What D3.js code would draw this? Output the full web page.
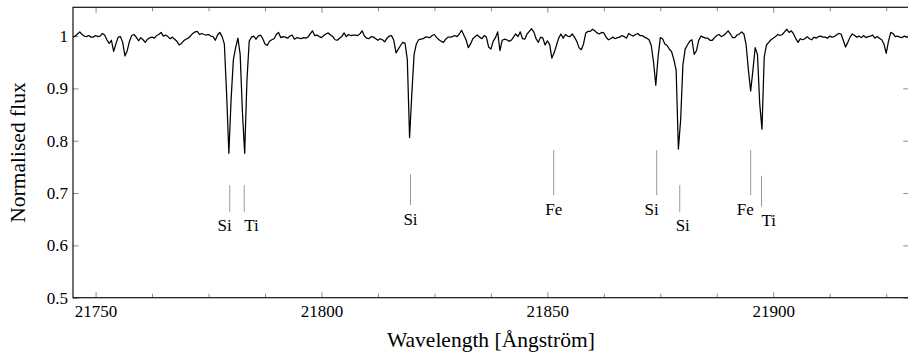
<!DOCTYPE html>
<html>
<head>
<meta charset="utf-8">
<script src="https://cdn.jsdelivr.net/npm/d3@7"></script>
<style>
  html, body { margin: 0; padding: 0; background: #fff; }
  svg { display: block; }
  svg text { font-family: "Liberation Serif", "DejaVu Serif", serif !important; fill: #000; }
</style>
</head>
<body>
<svg id="chart" width="908" height="355"></svg>
<script>
// ---------------- DATA ----------------
const wavelengthStart = 21745;   // Å, first sample
const wavelengthStep = 0.5;      // Å, sampling interval
const flux = [
  0.998, 1.000, 1.004, 1.008, 1.003, 1.000, 0.999, 1.001, 0.998, 0.998,
  1.001, 0.999, 1.000, 1.005, 1.002, 0.993, 0.986, 0.992, 0.971, 0.985,
  0.998, 0.999, 0.988, 0.962, 0.972, 0.990, 1.001, 1.003, 0.998, 0.991,
  0.997, 0.993, 0.988, 0.994, 0.997, 0.998, 0.996, 1.001, 1.003, 1.007,
  1.000, 1.002, 0.999, 0.995, 0.998, 0.994, 0.990, 0.983, 0.986, 0.991,
  0.994, 0.996, 1.000, 1.005, 1.008, 1.009, 1.003, 1.005, 1.003, 1.002,
  1.003, 1.000, 0.999, 0.992, 1.002, 1.007, 0.999, 0.985, 0.890, 0.776,
  0.880, 0.955, 0.978, 0.996, 0.965, 0.855, 0.776, 0.915, 0.990, 0.998,
  1.000, 0.994, 1.000, 1.002, 0.995, 0.985, 0.982, 0.990, 0.993, 0.995,
  1.003, 1.007, 0.997, 0.999, 0.998, 0.996, 1.000, 1.002, 0.994, 0.997,
  0.996, 0.995, 0.997, 0.996, 0.998, 1.004, 1.010, 1.001, 1.002, 0.999,
  0.997, 1.001, 1.004, 1.006, 1.002, 0.999, 0.993, 0.992, 0.996, 0.999,
  1.006, 0.999, 1.003, 1.001, 1.002, 1.002, 1.001, 1.004, 1.010, 1.000,
  0.996, 0.995, 0.999, 0.998, 0.995, 0.992, 0.995, 0.993, 0.989, 0.996,
  1.000, 1.001, 0.992, 0.968, 0.975, 0.982, 0.988, 0.986, 0.955, 0.806,
  0.890, 0.965, 0.985, 0.993, 0.994, 0.995, 0.998, 0.998, 0.997, 1.001,
  1.003, 0.997, 0.993, 0.990, 0.988, 0.994, 0.998, 0.998, 0.999, 1.001,
  0.999, 1.004, 1.011, 1.002, 0.993, 0.978, 0.985, 0.995, 0.999, 1.002,
  0.998, 0.995, 1.001, 0.998, 0.979, 0.975, 0.990, 0.997, 1.008, 0.972,
  0.992, 0.994, 0.993, 0.990, 0.992, 0.998, 1.004, 0.999, 1.008, 0.995,
  0.994, 1.004, 1.009, 1.014, 1.008, 0.995, 0.988, 0.998, 0.996, 0.983,
  0.991, 0.984, 0.958, 0.968, 0.982, 0.996, 1.004, 0.996, 1.003, 1.000,
  0.999, 1.004, 0.998, 0.990, 0.978, 0.974, 0.985, 1.006, 1.009, 1.009,
  1.013, 1.010, 1.006, 1.004, 1.007, 1.006, 0.998, 0.993, 0.995, 0.998,
  0.995, 0.997, 0.998, 1.001, 0.999, 0.996, 1.005, 1.002, 1.000, 1.003,
  1.005, 1.001, 1.001, 0.998, 0.996, 0.993, 0.982, 0.950, 0.906, 0.960,
  0.997, 0.995, 0.985, 0.982, 0.975, 0.970, 0.955, 0.935, 0.784, 0.840,
  0.945, 0.975, 0.983, 0.990, 0.993, 0.965, 0.972, 0.992, 1.000, 0.998,
  0.996, 0.996, 0.992, 0.992, 0.997, 1.001, 1.003, 0.999, 1.001, 1.005,
  1.010, 1.004, 0.997, 0.997, 1.002, 1.004, 1.008, 1.004, 0.983, 0.935,
  0.895, 0.935, 0.978, 0.965, 0.871, 0.822, 0.960, 0.983, 0.988, 0.993,
  0.996, 0.999, 1.003, 1.001, 1.003, 1.008, 1.013, 1.007, 1.010, 1.004,
  0.995, 0.988, 0.995, 0.993, 0.995, 0.999, 0.995, 0.993, 0.998, 0.996,
  0.999, 1.000, 0.998, 0.998, 0.996, 1.000, 0.998, 0.999, 1.002, 1.005,
  1.004, 0.992, 0.979, 0.988, 0.998, 1.004, 1.001, 0.998, 1.000, 0.997,
  1.001, 0.997, 0.999, 1.000, 1.002, 0.996, 0.999, 0.996, 0.993, 0.985,
  0.967, 0.990, 1.007, 1.005, 0.999, 1.000, 0.998, 0.997, 1.000, 0.998,
  0.999
];

// identified lines
const lineLabels      = ["Si", "Ti", "Si", "Fe", "Si", "Si", "Fe", "Ti"];
const lineWavelengths = [21779.7, 21782.9, 21819.7, 21851.4, 21874.2, 21879.3, 21895.0, 21897.4];
const lineTop         = [0.715, 0.715, 0.736, 0.782, 0.782, 0.715, 0.782, 0.733];
const lineBottom      = [0.664, 0.664, 0.677, 0.696, 0.696, 0.664, 0.696, 0.674];

// axes
const xDomain = [21745, 21930];
const yDomain = [0.5, 1.055];
const xMajorTicks = [21750, 21800, 21850, 21900];
const xMinorTicks = [21762.5, 21775, 21787.5, 21812.5, 21825, 21837.5, 21862.5, 21875, 21887.5, 21912.5, 21925];
const yTicks = [0.5, 0.6, 0.7, 0.8, 0.9, 1];
const xTitle = "Wavelength [Ångström]";
const yTitle = "Normalised flux";

// ---------------- DRAW ----------------
(function () {
const svg = d3.select("#chart");
const mLeft = 73, mRight = 908.8, mTop = 7.3, mBottom = 297.7;
const serif = "'Liberation Serif', 'DejaVu Serif', serif";

const x = d3.scaleLinear().domain(xDomain).range([mLeft, mRight]);
const y = d3.scaleLinear().domain(yDomain).range([mBottom, mTop]);

const points = flux.map((f, i) => ({ w: wavelengthStart + i * wavelengthStep, f }));

const tickColor = "#8a8a8a";
const fmtY = d3.format("~g");

function styleAxis(g) {
  g.attr("font-family", serif);
  g.select(".domain").remove();
  g.selectAll(".tick line").attr("stroke", tickColor).attr("stroke-width", 1);
  g.selectAll(".tick text").attr("font-family", serif).attr("font-size", 17).attr("fill", "#000");
}

// bottom major
svg.append("g").attr("transform", `translate(0,${mBottom})`)
  .call(d3.axisBottom(x).tickValues(xMajorTicks).tickSize(-5.5).tickPadding(7.5).tickFormat(d3.format("d")))
  .call(styleAxis);
// bottom minor
svg.append("g").attr("transform", `translate(0,${mBottom})`)
  .call(d3.axisBottom(x).tickValues(xMinorTicks).tickSize(-4).tickFormat(""))
  .call(styleAxis);
// top major + minor
svg.append("g").attr("transform", `translate(0,${mTop})`)
  .call(d3.axisTop(x).tickValues(xMajorTicks).tickSize(-5.5).tickFormat(""))
  .call(styleAxis);
svg.append("g").attr("transform", `translate(0,${mTop})`)
  .call(d3.axisTop(x).tickValues(xMinorTicks).tickSize(-4).tickFormat(""))
  .call(styleAxis);
// left
svg.append("g").attr("transform", `translate(${mLeft},0)`)
  .call(d3.axisLeft(y).tickValues(yTicks).tickSize(-5.5).tickPadding(5).tickFormat(fmtY))
  .call(styleAxis);
// right
svg.append("g").attr("transform", `translate(${mRight},0)`)
  .call(d3.axisRight(y).tickValues(yTicks).tickSize(-5.5).tickFormat(""))
  .call(styleAxis);

// line markers
const markers = lineLabels.map((lab, i) => ({ lab, w: lineWavelengths[i], t: lineTop[i], b: lineBottom[i] }));
const labelAnchor = ["end", "start", "middle", "middle", "end", "middle", "end", "start"];
const labelDx = [2, 0, 0, 0, 2, 3, 3, 0];

svg.append("g").selectAll("line").data(markers).join("line")
  .attr("x1", d => x(d.w)).attr("x2", d => x(d.w))
  .attr("y1", d => y(d.t)).attr("y2", d => y(d.b))
  .attr("stroke", "#9a9a9a").attr("stroke-width", 1);

svg.append("g").selectAll("text").data(markers).join("text")
  .attr("x", (d, i) => x(d.w) + labelDx[i])
  .attr("y", d => y(d.b) + 19.5)
  .attr("text-anchor", (d, i) => labelAnchor[i])
  .attr("font-family", serif)
  .attr("font-size", 17)
  .text(d => d.lab);

// spectrum
svg.append("path").datum(points)
  .attr("fill", "none").attr("stroke", "#000").attr("stroke-width", 1.25)
  .attr("stroke-linejoin", "round")
  .attr("d", d3.line().x(d => x(d.w)).y(d => y(d.f)));

// frame
svg.append("rect")
  .attr("x", mLeft).attr("y", mTop).attr("width", mRight - mLeft).attr("height", mBottom - mTop)
  .attr("fill", "none").attr("stroke", "#111").attr("stroke-width", 1.2);

// titles
svg.append("text")
  .attr("x", (mLeft + mRight) / 2).attr("y", 347)
  .attr("text-anchor", "middle").attr("font-family", serif).attr("font-size", 21.5)
  .text(xTitle);
svg.append("text")
  .attr("transform", `translate(25,${(mTop + mBottom) / 2}) rotate(-90)`)
  .attr("text-anchor", "middle").attr("font-family", serif).attr("font-size", 21.5)
  .text(yTitle);
})();
</script>
</body>
</html>
